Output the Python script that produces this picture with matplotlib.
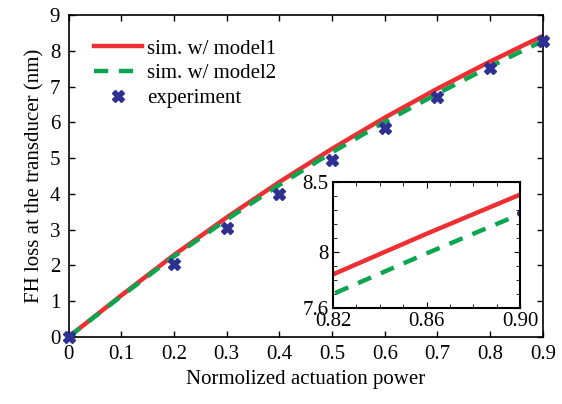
import numpy as np
import matplotlib
matplotlib.use("Agg")
import matplotlib.pyplot as plt

plt.rcParams['font.family'] = ['Liberation Serif', 'DejaVu Serif']

################################
#### data
################################

x_sim = [0, 0.1, 0.2, 0.3, 0.4, 0.5, 0.6, 0.7, 0.8, 0.82, 0.86, 0.9]
y_model1 = [0, 1.16, 2.29, 3.34, 4.33, 5.26, 6.13, 6.94, 7.70, 7.84, 8.13, 8.41]
y_model2 = [0, 1.14, 2.25, 3.28, 4.25, 5.16, 6.01, 6.80, 7.56, 7.70, 7.99, 8.27]

x_exp = [0, 0.2, 0.3, 0.4, 0.5, 0.6, 0.7, 0.8, 0.9]
y_exp = [0, 2.04, 3.05, 4.0, 4.95, 5.85, 6.71, 7.52, 8.28]

labels = ['sim. w/ model1', 'sim. w/ model2', 'experiment']

red = '#ee2e31'
green = '#0aa64f'
blue = '#2e3192'

################################
#### main axes
################################

fig = plt.figure(figsize=(5.62, 4.04), dpi=100)
ax = fig.add_axes([0.122, 0.166, 0.844, 0.797])

ax.plot(x_sim, y_model1, '-', color=red, lw=3.2, label=labels[0], zorder=2)
ax.plot(x_sim, y_model2, '--', color=green, lw=3.2, dashes=(3.2, 2.4),
        label=labels[1], zorder=3)
ax.plot(x_exp, y_exp, 'X', color=blue, ms=9, mec=blue, label=labels[2],
        zorder=4, clip_on=False)

ax.set_xlim(0, 0.9)
ax.set_ylim(0, 9)
ax.set_xticks(np.arange(0, 0.91, 0.1))
ax.set_xticklabels(['0', '0.1', '0.2', '0.3', '0.4', '0.5', '0.6', '0.7', '0.8', '0.9'])
ax.set_yticks(range(0, 10))
ax.tick_params(direction='in', top=True, right=True, labelsize=15, length=4,
               width=1, pad=6)
for s in ax.spines.values():
    s.set_linewidth(1.2)

ax.set_xlabel('Normolized actuation power', fontsize=15)
ax.set_ylabel('FH loss at the transducer (nm)', fontsize=15)

ax.legend(loc='upper left', frameon=False, fontsize=15, handlelength=2.3,
          handletextpad=0.25, labelspacing=0.25, borderaxespad=0.6,
          bbox_to_anchor=(0.01, 0.99))

################################
#### inset zoom
################################

ins = fig.add_axes([0.5925, 0.2376, 0.333, 0.312])
ins.plot(x_sim, y_model1, '-', color=red, lw=3.2)
ins.plot(x_sim, y_model2, '--', color=green, lw=3.2, dashes=(3.2, 2.4))
ins.plot(x_exp, y_exp, 'o', color=blue, ms=4)
ins.set_xlim(0.82, 0.9)
ins.set_ylim(7.6, 8.5)
ins.set_xticks([0.82, 0.86, 0.90])
ins.set_xticklabels(['0.82', '0.86', '0.90'])
ins.set_xticks(np.arange(0.82, 0.901, 0.01), minor=True)
ins.set_yticks([7.6, 8.0, 8.5])
ins.set_yticklabels(['7.6', '8', '8.5'])
ins.set_yticks(np.arange(7.6, 8.51, 0.1), minor=True)
ins.tick_params(which='both', direction='in', top=True, right=True,
                labelsize=15, pad=3)
ins.tick_params(which='major', length=4)
ins.tick_params(which='minor', length=3)
for s in ins.spines.values():
    s.set_linewidth(1.5)

fig.savefig('out.png', dpi=100)
